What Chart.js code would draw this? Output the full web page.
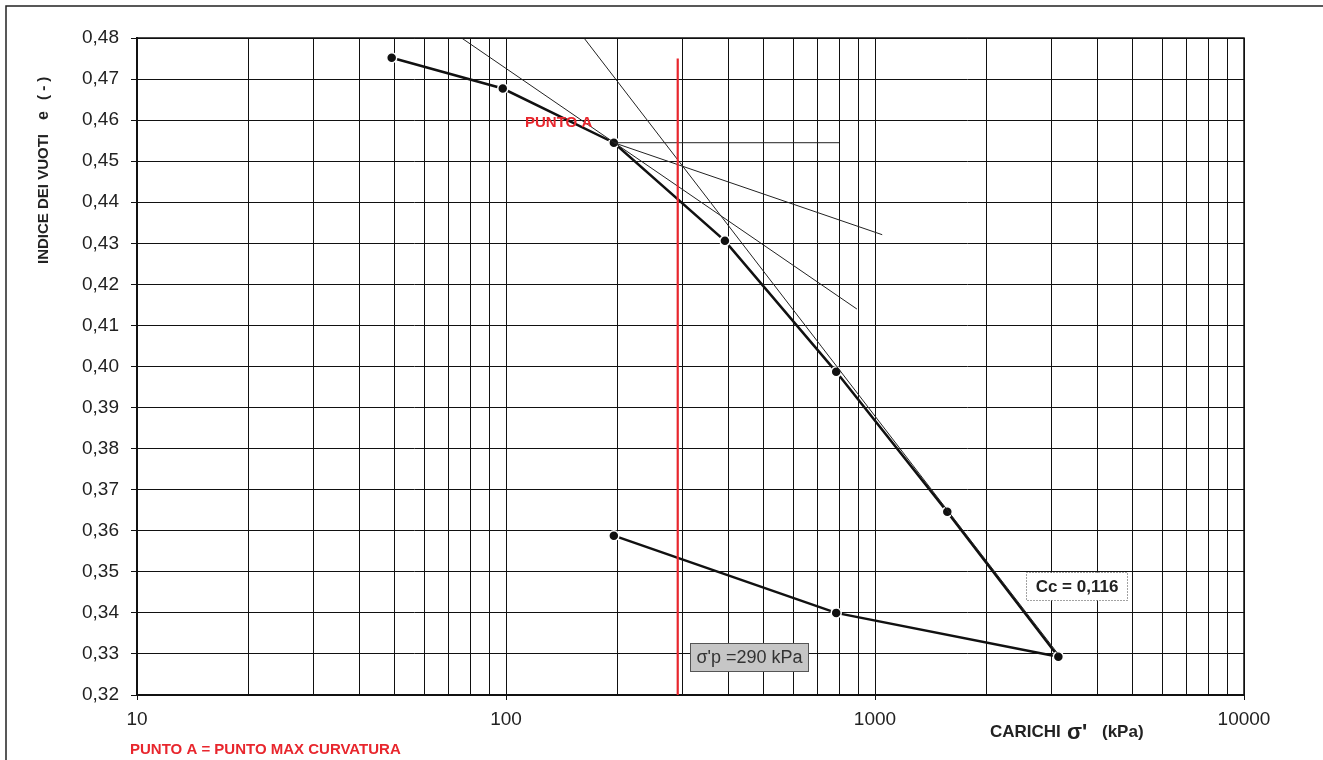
<!DOCTYPE html>
<html><head><meta charset="utf-8">
<script src="https://cdn.jsdelivr.net/npm/chart.js@4"></script>
<style>html,body{margin:0;padding:0;background:#fff;}canvas{display:block}</style>
</head><body>
<canvas id="c" width="1323" height="760"></canvas>
<script>
// ---- data ----
const loadingStress = [49, 98, 196, 392, 785, 1570, 3140];
const loadingVoid   = [0.4752, 0.4677, 0.4545, 0.4306, 0.3987, 0.3646, 0.3293];
const unloadingStress = [3140, 785, 196];
const unloadingVoid   = [0.3293, 0.3400, 0.3588];
const horizStress = [196, 800];
const horizVoid   = [0.4545, 0.4545];
const tangentStress = [75.8, 893];
const tangentVoid   = [0.48, 0.414];
const bisectorStress = [196, 1046];
const bisectorVoid   = [0.4545, 0.4321];
const ccStress = [162.7, 3140];
const ccVoid   = [0.48, 0.3299];
const sigmaPStress = [292, 292];
const sigmaPVoid   = [0.475, 0.32];
const xTickValues = [10,20,30,40,50,60,70,80,90,100,200,300,400,500,600,700,800,900,1000,2000,3000,4000,5000,6000,7000,8000,9000,10000];
const xTickLabels = [10, 100, 1000, 10000];
const yTickValues = [0.32,0.33,0.34,0.35,0.36,0.37,0.38,0.39,0.40,0.41,0.42,0.43,0.44,0.45,0.46,0.47,0.48];

const pairs = (xs, ys) => xs.map((x, i) => ({x: x, y: ys[i]}));
const FONT = "'Liberation Sans', Arial, sans-serif";
const RED = '#e8262d';

const thin = (xs, ys) => ({data: pairs(xs, ys), showLine: true, borderColor: '#222', borderWidth: 1, pointRadius: 0, fill: false});

const overlay = {
  id: 'overlay',
  afterDraw(chart) {
    const ctx = chart.ctx, a = chart.chartArea;
    ctx.save();
    // outer frame
    ctx.strokeStyle = '#222'; ctx.lineWidth = 1.5;
    ctx.beginPath(); ctx.moveTo(6, 760); ctx.lineTo(6, 6); ctx.lineTo(1323, 6); ctx.stroke();
    // plot border top/right
    ctx.lineWidth = 1.5; ctx.strokeStyle = '#111';
    ctx.beginPath(); ctx.moveTo(a.left, a.top); ctx.lineTo(a.right, a.top); ctx.lineTo(a.right, a.bottom); ctx.stroke();

    // PUNTO A label
    ctx.fillStyle = RED; ctx.textBaseline = 'middle'; ctx.textAlign = 'left';
    ctx.font = 'bold 15px ' + FONT;
    ctx.fillText('PUNTO A', 525, 123);
    ctx.fillText('PUNTO A = PUNTO MAX CURVATURA', 130, 750);

    // x title
    ctx.fillStyle = '#222';
    ctx.font = 'bold 17px ' + FONT;
    ctx.fillText('CARICHI', 990, 732);
    ctx.font = 'bold 22px ' + FONT;
    ctx.fillText("σ'", 1067, 733);
    ctx.font = 'bold 17px ' + FONT;
    ctx.fillText('(kPa)', 1102, 732);

    // y title (rotated)
    ctx.save();
    ctx.translate(44, 264);
    ctx.rotate(-Math.PI / 2);
    ctx.textAlign = 'left'; ctx.textBaseline = 'middle';
    ctx.font = 'bold 15px ' + FONT;
    ctx.fillText('INDICE DEI VUOTI', 0, 0);
    ctx.font = 'bold 16px ' + FONT;
    ctx.fillText('e', 144, 0);
    ctx.font = 'bold 15px ' + FONT;
    ctx.fillText('( - )', 164, 0);
    ctx.restore();

    // sigma'p box
    ctx.fillStyle = '#c6c6c6'; ctx.strokeStyle = '#555'; ctx.lineWidth = 1;
    ctx.fillRect(690.5, 643.5, 118, 28); ctx.strokeRect(690.5, 643.5, 118, 28);
    ctx.fillStyle = '#333'; ctx.textAlign = 'center'; ctx.font = '18px ' + FONT;
    ctx.fillText("σ'p =290 kPa", 749.5, 658);

    // Cc box
    ctx.fillStyle = '#fff'; ctx.fillRect(1026.5, 572.5, 101, 28);
    ctx.setLineDash([1, 2]); ctx.strokeStyle = '#444';
    ctx.strokeRect(1026.5, 572.5, 101, 28); ctx.setLineDash([]);
    ctx.fillStyle = '#222'; ctx.font = 'bold 17px ' + FONT;
    ctx.fillText('Cc = 0,116', 1077, 587);
    ctx.restore();
  }
};

new Chart(document.getElementById('c'), {
  type: 'scatter',
  data: {
    datasets: [
      {data: pairs(sigmaPStress, sigmaPVoid), showLine: true, borderColor: RED, borderWidth: 2.2, pointRadius: 0},
      thin(horizStress, horizVoid),
      thin(tangentStress, tangentVoid),
      thin(bisectorStress, bisectorVoid),
      thin(ccStress, ccVoid),
      {data: pairs(unloadingStress, unloadingVoid), showLine: true, borderColor: '#111', borderWidth: 2.5,
       pointRadius: 5, pointBackgroundColor: '#111', pointBorderColor: '#fff', pointBorderWidth: 1.5},
      {data: pairs(loadingStress, loadingVoid), showLine: true, borderColor: '#111', borderWidth: 2.5,
       pointRadius: 5, pointBackgroundColor: '#111', pointBorderColor: '#fff', pointBorderWidth: 1.5}
    ]
  },
  options: {
    responsive: false,
    animation: false,
    layout: {padding: {left: 0, top: 38, right: 79, bottom: 0}},
    plugins: {legend: {display: false}, tooltip: {enabled: false}},
    scales: {
      x: {
        type: 'logarithmic', min: 10, max: 10000,
        afterBuildTicks: s => { s.ticks = xTickValues.map(v => ({value: v})); },
        afterFit: s => { s.height = 65; },
        grid: {color: '#111', lineWidth: 1, tickLength: 5,
               tickColor: c => (c.tick && xTickLabels.includes(c.tick.value)) ? '#111' : 'rgba(0,0,0,0)'},
        border: {display: true, color: '#111', width: 2},
        ticks: {autoSkip: false, maxRotation: 0, padding: 8, color: '#222',
                font: {family: FONT, size: 19},
                callback: v => xTickLabels.includes(v) ? String(v) : ''}
      },
      y: {
        min: 0.32, max: 0.48,
        afterBuildTicks: s => { s.ticks = yTickValues.map(v => ({value: v})); },
        afterFit: s => { s.width = 137; },
        grid: {color: '#111', lineWidth: 1, tickLength: 6, tickColor: '#111'},
        border: {display: true, color: '#111', width: 2},
        ticks: {padding: 12, color: '#222', font: {family: FONT, size: 19},
                callback: v => v.toFixed(2).replace('.', ',')}
      }
    }
  },
  plugins: [overlay]
});
</script>
</body></html>
